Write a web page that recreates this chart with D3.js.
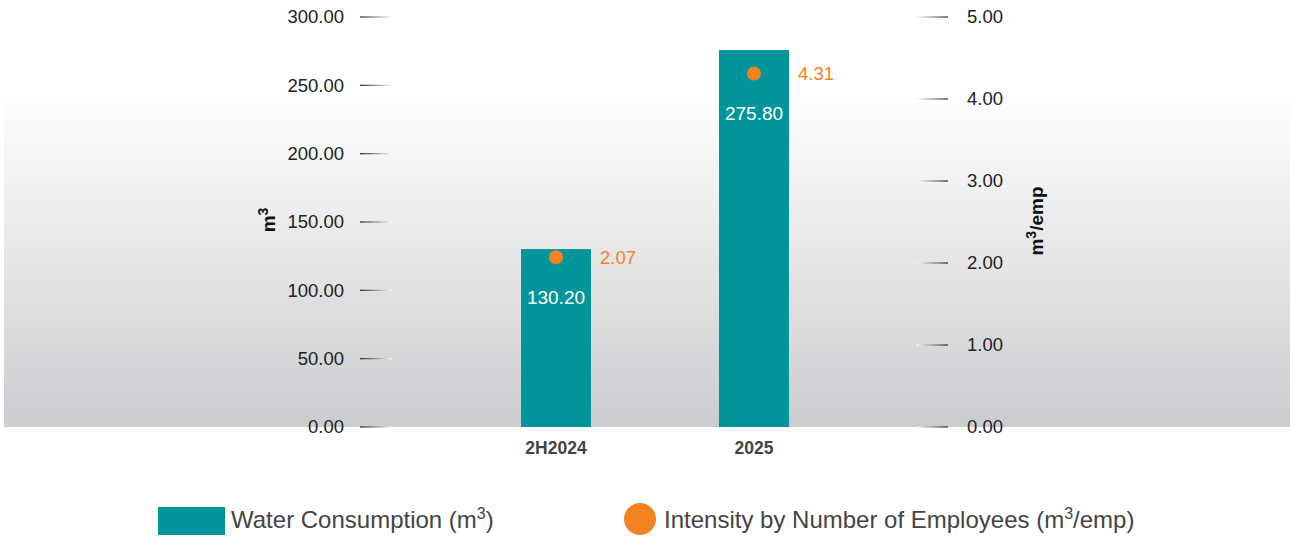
<!DOCTYPE html>
<html>
<head>
<meta charset="utf-8">
<script src="https://cdn.jsdelivr.net/npm/d3@7"></script>
<style>
  body { margin: 0; background: #fff; }
  svg { display: block; }
</style>
</head>
<body>
<svg id="svg" width="1290" height="537"></svg>
<script>
// data
const categories = ["2H2024", "2025"];
const consumption = [130.20, 275.80];
const intensity = [2.07, 4.31];
const leftTicks = [0, 50, 100, 150, 200, 250, 300];
const rightTicks = [0, 1, 2, 3, 4, 5];

// how far below the bar top the value label sits
const labelOffset = [55, 70];

const teal = "#00959b";
const orange = "#f58220";
const font = "'Liberation Sans', Arial, sans-serif";

const svg = d3.select("#svg")
    .attr("font-family", font);

const defs = svg.append("defs");
const bg = defs.append("linearGradient").attr("id", "bg")
    .attr("x1", 0).attr("y1", 0).attr("x2", 0).attr("y2", 1);
bg.append("stop").attr("offset", "0.22").attr("stop-color", "#ffffff");
bg.append("stop").attr("offset", "1").attr("stop-color", "#cbcccf");

const tl = defs.append("linearGradient").attr("id", "tickL");
tl.append("stop").attr("offset", 0).attr("stop-color", "#222");
tl.append("stop").attr("offset", 1).attr("stop-color", "#fff");
const tr = defs.append("linearGradient").attr("id", "tickR");
tr.append("stop").attr("offset", 0).attr("stop-color", "#fff");
tr.append("stop").attr("offset", 1).attr("stop-color", "#222");

const plotTop = 17, plotBottom = 427;

svg.append("rect")
    .attr("x", 4).attr("y", 0)
    .attr("width", 1286).attr("height", plotBottom)
    .attr("fill", "url(#bg)");

const x = d3.scaleBand()
    .domain(categories)
    .range([422, 888])
    .paddingInner(0.6465)
    .paddingOuter(0.5);

const yL = d3.scaleLinear().domain([0, 300]).range([plotBottom, plotTop]);
const yR = d3.scaleLinear().domain([0, 5]).range([plotBottom, plotTop]);

// left axis
const gl = svg.append("g");
gl.selectAll("rect.tick")
    .data(leftTicks)
    .enter().append("rect")
    .attr("x", 360).attr("width", 32)
    .attr("y", d => yL(d) - 0.6).attr("height", 1.2)
    .attr("fill", "url(#tickL)");
gl.selectAll("text")
    .data(leftTicks)
    .enter().append("text")
    .attr("x", 344)
    .attr("y", d => yL(d))
    .attr("dy", "0.35em")
    .attr("text-anchor", "end")
    .attr("font-size", 18.5)
    .attr("fill", "#222")
    .text(d => d3.format(".2f")(d));

// right axis
const gr = svg.append("g");
gr.selectAll("rect.tick")
    .data(rightTicks)
    .enter().append("rect")
    .attr("x", 916).attr("width", 32)
    .attr("y", d => yR(d) - 0.6).attr("height", 1.2)
    .attr("fill", "url(#tickR)");
gr.selectAll("text")
    .data(rightTicks)
    .enter().append("text")
    .attr("x", 967)
    .attr("y", d => yR(d))
    .attr("dy", "0.35em")
    .attr("font-size", 18.5)
    .attr("fill", "#222")
    .text(d => d3.format(".2f")(d));

// axis titles
const t1 = svg.append("text")
    .attr("transform", "translate(275,220) rotate(-90)")
    .attr("text-anchor", "middle")
    .attr("font-size", 19).attr("font-weight", "bold").attr("fill", "#111");
t1.append("tspan").text("m");
t1.append("tspan").attr("dy", -7).attr("font-size", 14).text("3");

const t2 = svg.append("text")
    .attr("transform", "translate(1043,221) rotate(-90)")
    .attr("text-anchor", "middle")
    .attr("font-size", 19).attr("font-weight", "bold").attr("fill", "#111");
t2.append("tspan").text("m");
t2.append("tspan").attr("dy", -7).attr("font-size", 14).text("3");
t2.append("tspan").attr("dy", 7).text("/emp");

// bars
const rows = categories.map((c, i) => ({ c, v: consumption[i], r: intensity[i], off: labelOffset[i] }));
svg.selectAll("rect.bar")
    .data(rows)
    .enter().append("rect")
    .attr("class", "bar")
    .attr("x", d => x(d.c))
    .attr("width", x.bandwidth())
    .attr("y", d => yL(d.v))
    .attr("height", d => plotBottom - yL(d.v))
    .attr("fill", teal);

svg.selectAll("text.val")
    .data(rows)
    .enter().append("text")
    .attr("x", d => x(d.c) + x.bandwidth() / 2)
    .attr("y", d => yL(d.v) + d.off)
    .attr("text-anchor", "middle")
    .attr("font-size", 19)
    .attr("fill", "#fff")
    .text(d => d3.format(".2f")(d.v));

svg.selectAll("circle.dot")
    .data(rows)
    .enter().append("circle")
    .attr("cx", d => x(d.c) + x.bandwidth() / 2)
    .attr("cy", d => yR(d.r))
    .attr("r", 7)
    .attr("fill", orange);

svg.selectAll("text.dl")
    .data(rows)
    .enter().append("text")
    .attr("x", d => x(d.c) + x.bandwidth() + 9)
    .attr("y", d => yR(d.r))
    .attr("dy", "0.35em")
    .attr("font-size", 18.5)
    .attr("fill", orange)
    .text(d => d3.format(".2f")(d.r));

// category labels
svg.selectAll("text.cat")
    .data(categories)
    .enter().append("text")
    .attr("x", d => x(d) + x.bandwidth() / 2)
    .attr("y", 454)
    .attr("text-anchor", "middle")
    .attr("font-size", 17.5)
    .attr("font-weight", "bold")
    .attr("fill", "#444")
    .text(d => d);

// legend
svg.append("rect")
    .attr("x", 158).attr("y", 507)
    .attr("width", 67).attr("height", 28)
    .attr("fill", teal);
const l1 = svg.append("text")
    .attr("x", 231).attr("y", 528)
    .attr("font-size", 24).attr("fill", "#444");
l1.append("tspan").text("Water Consumption (m");
l1.append("tspan").attr("dy", -9).attr("font-size", 16).text("3");
l1.append("tspan").attr("dy", 9).text(")");

svg.append("circle")
    .attr("cx", 640).attr("cy", 519).attr("r", 16)
    .attr("fill", orange);
const l2 = svg.append("text")
    .attr("x", 664).attr("y", 528)
    .attr("font-size", 24).attr("fill", "#444");
l2.append("tspan").text("Intensity by Number of Employees (m");
l2.append("tspan").attr("dy", -9).attr("font-size", 16).text("3");
l2.append("tspan").attr("dy", 9).text("/emp)");
</script>
</body>
</html>
